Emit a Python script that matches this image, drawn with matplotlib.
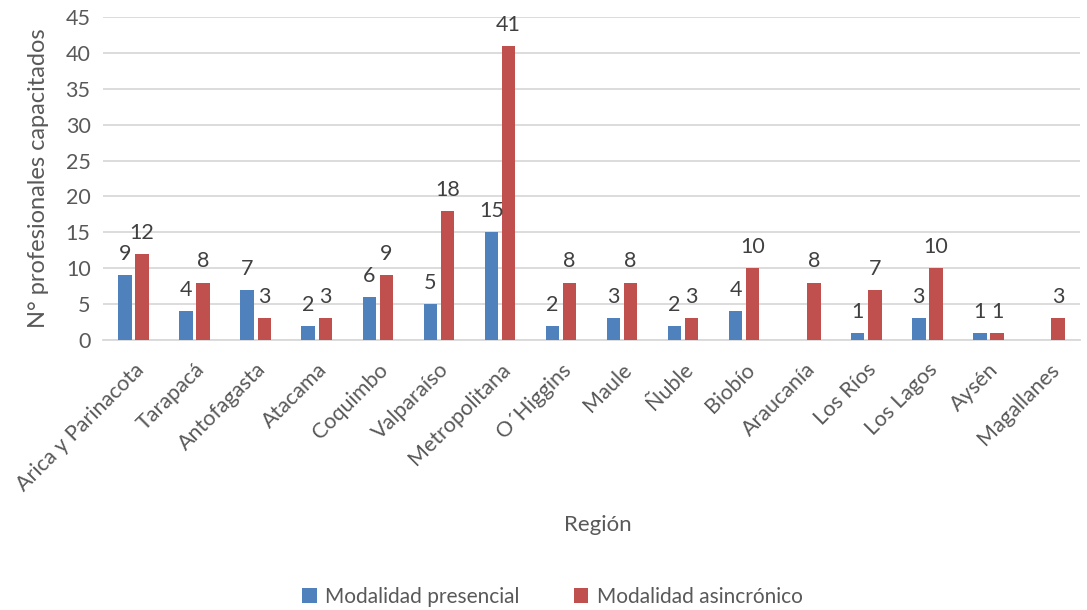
import matplotlib
matplotlib.use("Agg")
import matplotlib.pyplot as plt
import numpy as np

regiones = ["Arica y Parinacota", "Tarapacá", "Antofagasta", "Atacama", "Coquimbo",
            "Valparaíso", "Metropolitana", "O´Higgins", "Maule", "Ñuble", "Biobío",
            "Araucanía", "Los Ríos", "Los Lagos", "Aysén", "Magallanes"]
presencial = [9, 4, 7, 2, 6, 5, 15, 2, 3, 2, 4, None, 1, 3, 1, None]
asincronico = [12, 8, 3, 3, 9, 18, 41, 8, 8, 3, 10, 8, 7, 10, 1, 3]
yticks = list(range(0, 50, 5))

plt.rcParams['font.family'] = ['Lato', 'DejaVu Sans']
BLUE = "#4F81BD"
RED = "#C0504D"
TXT = "#595959"

fig = plt.figure(figsize=(10.87, 6.10), dpi=100)
ax = fig.add_axes([0.0948, 0.4426, 0.8988, 0.5295])

x = np.arange(len(regiones))
w = 0.22
off = 0.14
pv = [v if v is not None else 0 for v in presencial]
b1 = ax.bar(x - off, pv, w, color=BLUE, label="Modalidad presencial", zorder=3)
b2 = ax.bar(x + off, asincronico, w, color=RED, label="Modalidad asincrónico", zorder=3)

for xi, v in zip(x, presencial):
    if v is None:
        continue
    ax.annotate(str(v), (xi - off, v), xytext=(0, 8), textcoords="offset points",
                ha="center", va="bottom", fontsize=15.5, color="#404040")
for xi, v in zip(x, asincronico):
    ax.annotate(str(v), (xi + off, v), xytext=(0, 8), textcoords="offset points",
                ha="center", va="bottom", fontsize=15.5, color="#404040")

ax.set_xlim(-0.5, len(regiones) - 0.5)
ax.set_ylim(0, 45)
ax.set_yticks(yticks)
ax.yaxis.grid(True, color="#D9D9D9", linewidth=1.3, zorder=0)
ax.set_axisbelow(True)
for s in ["top", "right", "left"]:
    ax.spines[s].set_visible(False)
ax.spines["bottom"].set_color("#D9D9D9")
ax.spines["bottom"].set_linewidth(1.3)
ax.tick_params(axis="both", length=0, colors=TXT, labelsize=15.5)
ax.tick_params(axis="y", pad=9)
ax.set_xticks(x)
ax.set_xticklabels(regiones, rotation=45, ha="right", rotation_mode="anchor")
ax.tick_params(axis="x", pad=14)

ax.set_ylabel("N° profesionales capacitados", fontsize=17, color=TXT, labelpad=12)
fig.text(0.55, 0.139, "Región", ha="center", va="center", fontsize=16, color=TXT)

fig.legend(handles=[b1, b2], loc="center", bbox_to_anchor=(0.508, 0.022), ncol=2,
           frameon=False, fontsize=15, labelcolor=TXT, handlelength=0.7,
           handleheight=0.7, columnspacing=2.6, handletextpad=0.4)

fig.savefig("out.png", dpi=100)
